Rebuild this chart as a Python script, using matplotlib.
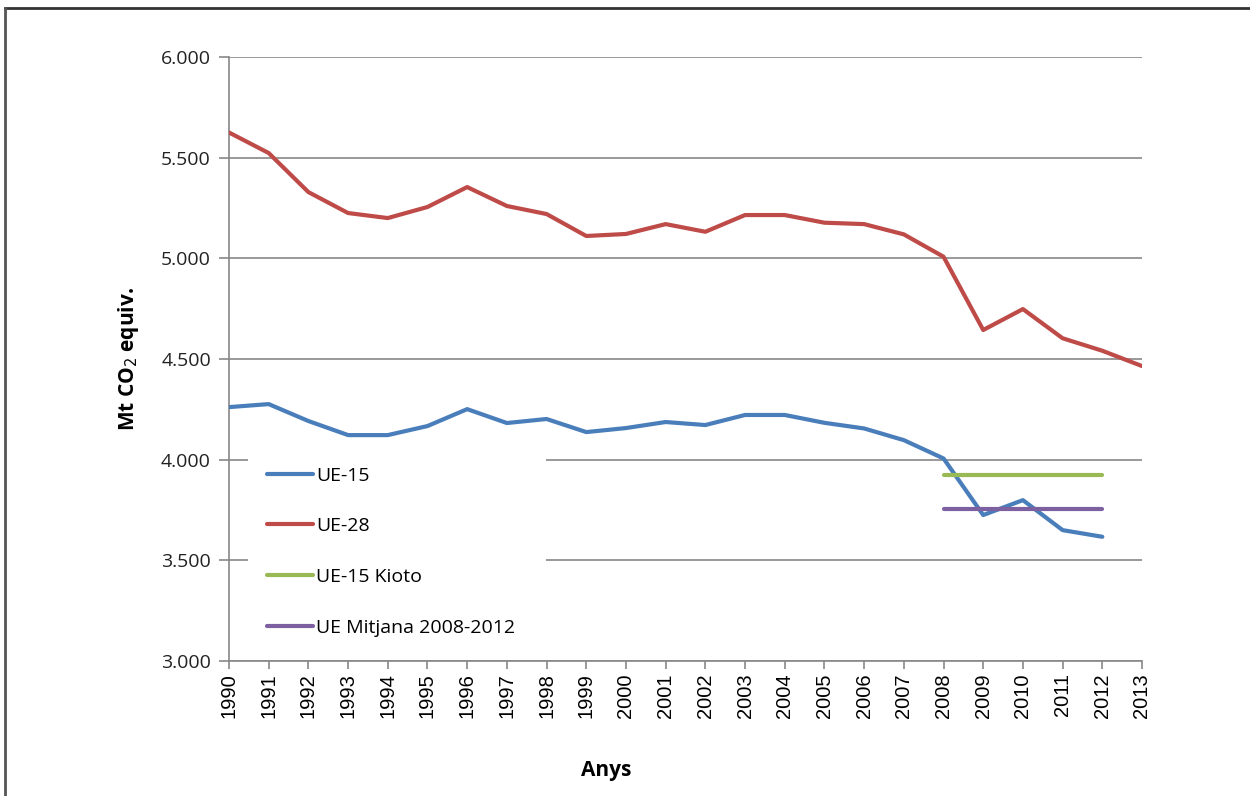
import matplotlib.pyplot as plt
from matplotlib.lines import Line2D
from matplotlib.patches import Rectangle
from matplotlib.ticker import FuncFormatter

# Dades (Mt CO2 equiv.)
anys = list(range(1990, 2014))
ue28 = [5625, 5523, 5329, 5225, 5200, 5255, 5354, 5260, 5220, 5111, 5121, 5170,
        5132, 5215, 5215, 5177, 5170, 5119, 5008, 4644, 4748, 4603, 4541, 4465]
anys_ue15 = list(range(1990, 2013))
ue15 = [4261, 4276, 4192, 4122, 4122, 4167, 4251, 4182, 4202, 4137, 4157, 4187,
        4172, 4222, 4222, 4183, 4155, 4097, 4006, 3725, 3799, 3650, 3617]
anys_kioto = [2008, 2009, 2010, 2011, 2012]
kioto = [3924, 3924, 3924, 3924, 3924]
mitjana = [3755, 3755, 3755, 3755, 3755]

blau = '#4A7EBB'
vermell = '#BE4B48'
verd = '#98B954'
lila = '#7D60A0'
gris = '#888888'

W, H = 1250, 796
fig = plt.figure(figsize=(W / 100, H / 100), dpi=100)
ax = fig.add_axes([229/W, 1 - 661/H, 913/W, 604/H])

ax.plot(anys_ue15, ue15, color=blau, lw=3, label='UE-15', solid_capstyle='round', zorder=3)
ax.plot(anys, ue28, color=vermell, lw=3, label='UE-28', solid_capstyle='round', zorder=3)
ax.plot(anys_kioto, kioto, color=verd, lw=3, label='UE-15 Kioto', solid_capstyle='round', zorder=3)
ax.plot(anys_kioto, mitjana, color=lila, lw=3, label='UE Mitjana 2008-2012',
        solid_capstyle='round', zorder=3)

ax.set_xlim(1990, 2013)
ax.set_ylim(3000, 6000)
ax.set_xticks(anys)
ax.set_xticklabels([str(a) for a in anys], rotation=90, family='Liberation Sans', fontsize=14.5)
ax.set_yticks(range(3000, 6001, 500))
ax.yaxis.set_major_formatter(FuncFormatter(lambda v, p: f'{int(v):,}'.replace(',', '.')))
for t in ax.get_yticklabels():
    t.set_family('Open Sans')
    t.set_fontsize(14)
    t.set_color('#222222')

ax.grid(axis='y', color=gris, lw=1.2)
ax.set_axisbelow(True)
for s in ['top', 'right']:
    ax.spines[s].set_visible(False)
for s in ['left', 'bottom']:
    ax.spines[s].set_color(gris)
    ax.spines[s].set_linewidth(1.2)
ax.tick_params(axis='y', length=7, color=gris, width=1.2, pad=6)
ax.tick_params(axis='x', length=6, color=gris, width=1.2, pad=3)

ax.set_ylabel('Mt CO$_2$ equiv.', family='Open Sans', fontweight='bold', fontsize=15)
ax.yaxis.set_label_coords((141 - 229) / 913, 0.5)
ax.set_xlabel('Anys', family='Open Sans', fontweight='bold', fontsize=15)
ax.xaxis.set_label_coords((606 - 229) / 913, -(760 - 661) / 604)

# fons blanc de la llegenda
ax.add_patch(Rectangle((248/W, 1 - 650/H), 298/W, 195/H, transform=fig.transFigure,
                       facecolor='white', edgecolor='none', zorder=1))
leg = ax.legend(loc='upper left', bbox_to_anchor=(253/W, 1 - 453/H),
                bbox_transform=fig.transFigure, frameon=False,
                prop={'family': 'Open Sans', 'size': 14}, handlelength=2.4,
                handletextpad=0.15, labelspacing=1.68, borderpad=0.2)

# Marc exterior
fig.add_artist(Line2D([5/W, 1], [1 - 8/H, 1 - 8/H], color='#333333', lw=2))
fig.add_artist(Line2D([5/W, 5/W], [0, 1 - 8/H], color='#555555', lw=2))

fig.savefig('out.png', dpi=100)
